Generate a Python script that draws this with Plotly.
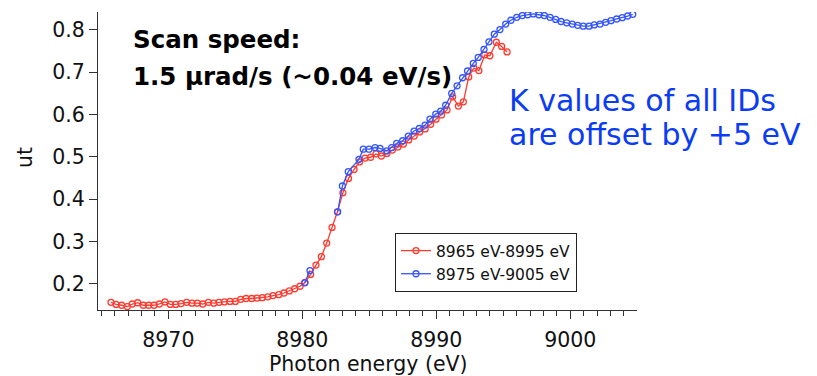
import plotly.graph_objects as go

# Scan 1: 8965 eV - 8995 eV
energy_a = [
    8965.72, 8966.10, 8966.52, 8966.94, 8967.31, 8967.71, 8968.13, 8968.53, 8968.93, 8969.33,
    8969.75, 8970.15, 8970.55, 8970.95, 8971.37, 8971.77, 8972.16, 8972.57, 8972.99, 8973.39,
    8973.78, 8974.18, 8974.60, 8975.00, 8975.40, 8975.80, 8976.22, 8976.62, 8977.01, 8977.42,
    8977.81, 8978.24, 8978.63, 8979.03, 8979.43, 8979.83, 8980.20, 8980.62, 8981.02, 8981.42,
    8981.82, 8982.22, 8982.62, 8983.03, 8983.45, 8983.86, 8984.27, 8984.68, 8985.10, 8985.50,
    8985.90, 8986.31, 8986.72, 8987.13, 8987.54, 8987.94, 8988.35, 8988.76, 8989.17, 8989.58,
    8989.98, 8990.39, 8990.80, 8991.22, 8991.65, 8992.02, 8992.42, 8992.80, 8993.18, 8993.62,
    8994.00, 8994.48, 8994.88, 8995.28,
]
ut_a = [
    0.156, 0.151, 0.149, 0.146, 0.152, 0.155, 0.149, 0.149, 0.149, 0.152,
    0.157, 0.151, 0.151, 0.153, 0.156, 0.154, 0.154, 0.152, 0.156, 0.154,
    0.156, 0.157, 0.158, 0.158, 0.163, 0.165, 0.165, 0.166, 0.167, 0.169,
    0.172, 0.174, 0.178, 0.183, 0.188, 0.194, 0.203, 0.222, 0.244, 0.264,
    0.296, 0.333, 0.370, 0.415, 0.449, 0.470, 0.488, 0.497, 0.499, 0.507,
    0.502, 0.508, 0.516, 0.523, 0.530, 0.540, 0.549, 0.559, 0.566, 0.577,
    0.589, 0.599, 0.611, 0.642, 0.620, 0.630, 0.689, 0.710, 0.704, 0.741,
    0.739, 0.771, 0.761, 0.748,
]

# Scan 2: 8975 eV - 9005 eV (None marks the stretch with no recorded points)
energy_b = [
    8980.18, 8980.57, 8981.60, 8982.64, 8982.99, 8983.43, 8984.23, 8984.55, 8984.98, 8985.43,
    8985.80, 8986.30, 8986.67, 8987.04, 8987.49, 8987.91, 8988.34, 8988.73, 8989.16, 8989.53,
    8989.96, 8990.33, 8990.70, 8991.15, 8991.55, 8991.96, 8992.33, 8992.76, 8993.13, 8993.56,
    8993.93, 8994.33, 8994.75, 8995.18, 8995.57, 8996.00, 8996.42, 8996.82, 8997.24, 8997.66,
    8998.06, 8998.49, 8998.91, 8999.31, 8999.73, 9000.15, 9000.55, 9000.97, 9001.40, 9001.79,
    9002.22, 9002.64, 9003.04, 9003.46, 9003.88, 9004.28, 9004.66,
]
ut_b = [
    0.202, 0.231, None, 0.370, 0.431, 0.465, 0.494, 0.518, 0.518, 0.522,
    0.520, 0.514, 0.522, 0.532, 0.538, 0.549, 0.561, 0.567, 0.575, 0.589,
    0.601, 0.608, 0.622, 0.650, 0.668, 0.687, 0.703, 0.721, 0.735, 0.754,
    0.772, 0.790, 0.801, 0.814, 0.823, 0.830, 0.834, 0.836, 0.838, 0.836,
    0.834, 0.830, 0.825, 0.820, 0.817, 0.814, 0.811, 0.809, 0.809, 0.812,
    0.814, 0.818, 0.822, 0.826, 0.829, 0.833, 0.837,
]

series_names = ["8965 eV-8995 eV", "8975 eV-9005 eV"]
series_colors = ["#ff3b30", "#3355ff"]

x_range = [8964.75, 9004.98]
y_range = [0.1378, 0.8425]

FONT = "DejaVu Sans"
AXIS_COLOR = "#333333"
TEXT_COLOR = "#111111"

fig = go.Figure()
for xs, ys, name, color in [
    (energy_a, ut_a, series_names[0], series_colors[0]),
    (energy_b, ut_b, series_names[1], series_colors[1]),
]:
    fig.add_trace(go.Scatter(
        x=xs, y=ys, name=name, mode="lines+markers",
        connectgaps=False,
        line=dict(color=color, width=1.3),
        marker=dict(symbol="circle-open", size=6, color=color,
                    line=dict(color=color, width=1.3)),
    ))

fig.update_xaxes(
    range=x_range, showgrid=False, zeroline=False,
    showline=True, linecolor=AXIS_COLOR, linewidth=1,
    ticks="outside", ticklen=8, tickwidth=1, tickcolor=AXIS_COLOR,
    tick0=8970, dtick=10, ticklabelstandoff=3,
    minor=dict(ticks="outside", ticklen=5, tickwidth=1, tickcolor=AXIS_COLOR, dtick=1, tick0=8970),
    tickfont=dict(family=FONT, size=20.5, color=TEXT_COLOR),
)
fig.update_yaxes(
    range=y_range, showgrid=False, zeroline=False,
    showline=True, linecolor=AXIS_COLOR, linewidth=1,
    ticks="outside", ticklen=8, tickwidth=1, tickcolor=AXIS_COLOR,
    tick0=0.2, dtick=0.1, tickformat=".1f",
    tickfont=dict(family=FONT, size=20.5, color=TEXT_COLOR),
)

L, R, T, B = 98, 180, 12, 66
W, H = 817, 376
pw, ph = W - L - R, H - T - B


def px(x):
    return (x - L) / pw


def py(y):
    return (H - B - y) / ph


annotations = [
    dict(text="Photon energy (eV)", x=px(368), y=py(364), xanchor="center", yanchor="middle",
         font=dict(family=FONT, size=20.5, color=TEXT_COLOR)),
    dict(text="ut", x=px(25), y=py(158), xanchor="center", yanchor="middle", textangle=-90,
         font=dict(family=FONT, size=20.5, color=TEXT_COLOR)),
    dict(text="<b>Scan speed:</b>", x=px(131), y=py(39), xanchor="left", yanchor="middle",
         font=dict(family=FONT, size=24.5, color="#000000")),
    dict(text="<b>1.5 μrad/s (~0.04 eV/s)</b>", x=px(131), y=py(76), xanchor="left", yanchor="middle",
         font=dict(family=FONT, size=24.5, color="#000000")),
    dict(text="K values of all IDs", x=px(507), y=py(101), xanchor="left", yanchor="middle",
         font=dict(family=FONT, size=30, color="#0b3cf5")),
    dict(text="are offset by +5 eV", x=px(507), y=py(134), xanchor="left", yanchor="middle",
         font=dict(family=FONT, size=30, color="#0b3cf5")),
]
for a in annotations:
    a.update(xref="paper", yref="paper", showarrow=False)

fig.update_layout(
    width=W, height=H,
    margin=dict(l=L, r=R, t=T, b=B, pad=0),
    paper_bgcolor="white", plot_bgcolor="white",
    showlegend=True,
    legend=dict(
        x=px(395), y=py(233), xanchor="left", yanchor="top",
        bgcolor="white", bordercolor="#222222", borderwidth=1,
        font=dict(family=FONT, size=15.5, color=TEXT_COLOR),
        itemwidth=30, tracegroupgap=0,
    ),
    annotations=annotations,
)

fig.write_html("out.html")
